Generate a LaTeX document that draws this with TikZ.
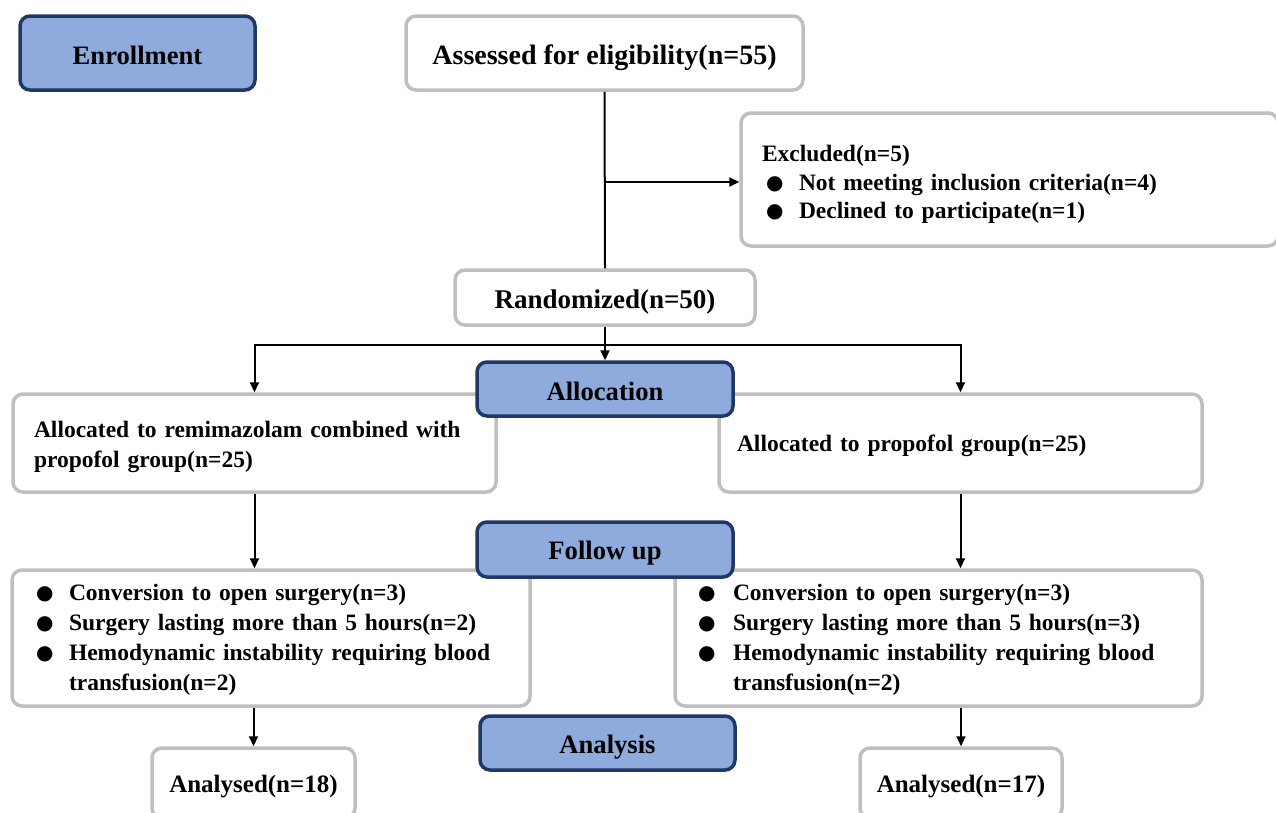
\documentclass[tikz,border=0pt]{standalone}
\usepackage{fontspec}
\setmainfont{Liberation Serif}
\newfontfamily\dejavu{DejaVu Sans}
\usetikzlibrary{arrows.meta}
\definecolor{hdrfill}{HTML}{8FAADC}
\definecolor{hdrline}{HTML}{1F3864}
\definecolor{boxline}{HTML}{BFBFBF}
\newcommand{\blt}[1][29pt]{\makebox[#1][l]{\raisebox{1pt}{\dejavu\fontsize{20}{20}\selectfont ●}}}
\newcommand{\dn}[2]{\raisebox{-#1}[\height][\depth]{#2}}
\begin{document}
\begin{tikzpicture}[x=1pt,y=-1pt,
  hdr/.style={draw=hdrline, fill=hdrfill, line width=3.5pt, rounded corners=10pt,
    inner sep=0pt, font=\fontsize{26.6}{30}\selectfont\bfseries},
  gbox/.style={draw=boxline, fill=white, line width=3.5pt, rounded corners=10pt, inner sep=0pt},
  body/.style={font=\fontsize{23.5}{30}\selectfont\bfseries},
  ln/.style={line width=2pt},
  arr/.style={line width=2pt, -{Triangle[length=10pt,width=9pt]}}]
\useasboundingbox (0,0) rectangle (1276,812);
\fill[white] (0,0) rectangle (1276,812);
\begin{scope}
\clip (0,0) rectangle (1276,812);
% enrollment
\node[hdr, minimum width=235pt, minimum height=74pt] (enr) at (137.5,53) {\dn{2pt}{Enrollment}};
\node[gbox, minimum width=397pt, minimum height=74pt, font=\fontsize{28}{32}\selectfont\bfseries]
  (assess) at (604.5,53) {\dn{5pt}{Assessed for eligibility(n=55)}};
\node[gbox, text width=495pt, inner xsep=21pt, minimum height=133pt, align=left,
  font=\fontsize{23.5}{28.5}\selectfont\bfseries]
  (excl) at (1009.5,179.5) {\rule{0pt}{26pt}Excluded(n=5)\\
  \hspace*{4pt}\blt[33pt]Not meeting inclusion criteria(n=4)\\
  \hspace*{4pt}\blt[33pt]Declined to participate(n=1)};
\node[gbox, minimum width=300pt, minimum height=55pt, font=\fontsize{27}{30}\selectfont\bfseries]
  (rand) at (605,297.5) {\dn{4pt}{Randomized(n=50)}};
% allocation
\node[gbox, body, text width=441pt, inner xsep=21pt, minimum height=98pt, align=left]
  (allocL) at (254.5,443) {\rule{0pt}{24pt}Allocated to remimazolam combined with\\ propofol group(n=25)};
\node[gbox, body, text width=447pt, inner xsep=18pt, minimum height=98pt, align=left]
  (allocR) at (960.5,443) {\rule{0pt}{23pt}Allocated to propofol group(n=25)};
\node[hdr, minimum width=256pt, minimum height=54pt] (alloc) at (605,389) {\dn{2pt}{Allocation}};
% follow up
\node[gbox, body, text width=470pt, inner xsep=24pt, minimum height=136pt, align=left]
  (follL) at (271,638) {\rule{0pt}{19pt}\blt[33pt]Conversion to open surgery(n=3)\\
  \blt[33pt]Surgery lasting more than 5 hours(n=2)\\
  \blt[33pt]Hemodynamic instability requiring blood\\
  \hspace*{33pt}transfusion(n=2)};
\node[gbox, body, text width=481pt, inner xsep=23pt, minimum height=136pt, align=left]
  (follR) at (938.5,638) {\rule{0pt}{19pt}\blt[35pt]Conversion to open surgery(n=3)\\
  \blt[35pt]Surgery lasting more than 5 hours(n=3)\\
  \blt[35pt]Hemodynamic instability requiring blood\\
  \hspace*{35pt}transfusion(n=2)};
\node[hdr, minimum width=256pt, minimum height=55pt] (follow) at (605,549.5) {\dn{4pt}{Follow up}};
% analysis
\node[hdr, minimum width=255pt, minimum height=54pt] (anal) at (607.5,743) {\dn{4pt}{Analysis}};
\node[gbox, minimum width=203pt, minimum height=70pt, font=\fontsize{25}{29}\selectfont\bfseries]
  (anaL) at (253.5,783) {\dn{4pt}{Analysed(n=18)}};
\node[gbox, minimum width=202pt, minimum height=70pt, font=\fontsize{25}{29}\selectfont\bfseries]
  (anaR) at (961,783) {\dn{4pt}{Analysed(n=17)}};
% connectors
\coordinate (jex) at (605,182);
\coordinate (split) at (605,345);
\draw[ln] (assess.south) -- (rand.north);
\draw[arr] (jex) -- (jex -| excl.west);
\draw[arr] (rand.south) -- (alloc.north);
\draw[arr] (split) -| (allocL.north);
\draw[arr] (split) -| (allocR.north);
\draw[arr] (allocL.south) -- (allocL.south |- follL.north);
\draw[arr] (allocR.south) -- (allocR.south |- follR.north);
\draw[arr] (anaL.north |- follL.south) -- (anaL.north);
\draw[arr] (anaR.north |- follR.south) -- (anaR.north);
\end{scope}
\end{tikzpicture}
\end{document}
